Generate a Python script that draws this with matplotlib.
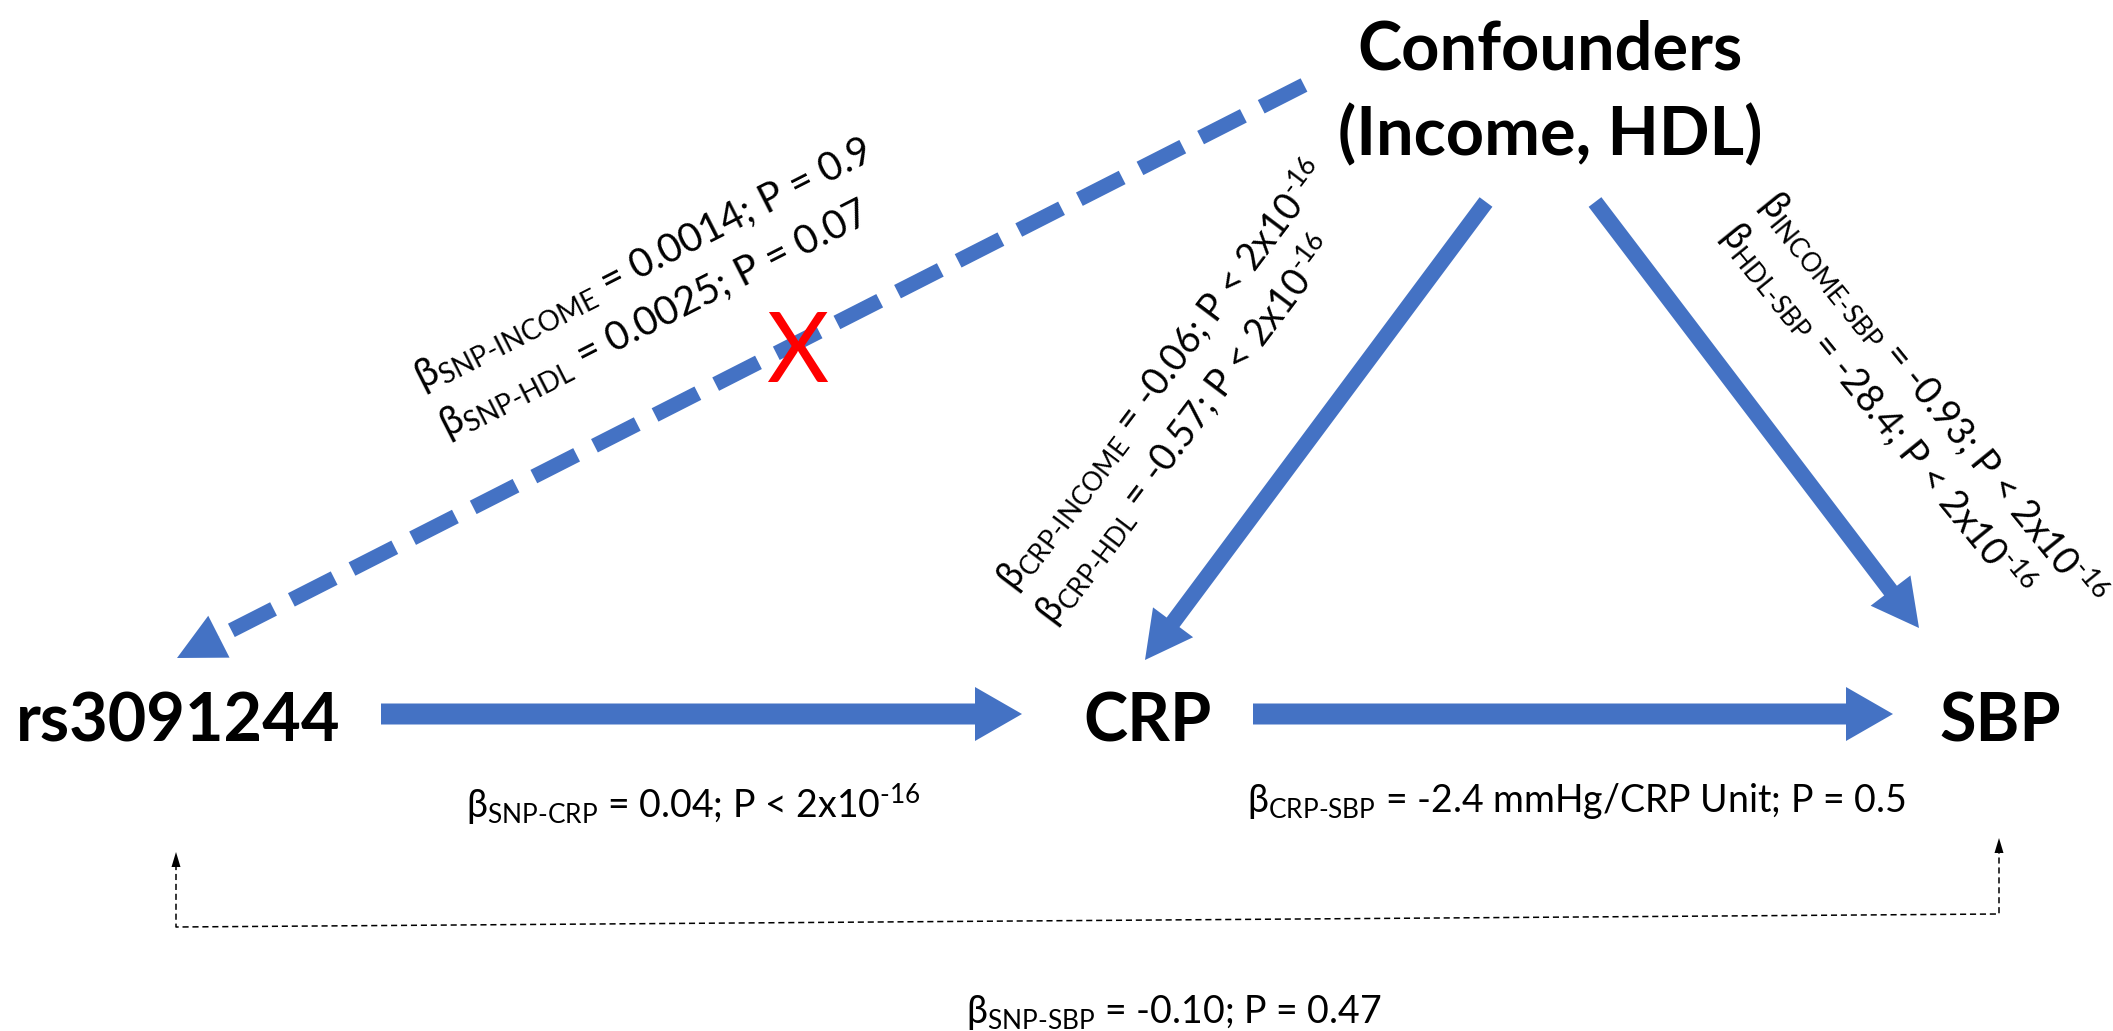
import matplotlib
matplotlib.use('Agg')
import matplotlib.pyplot as plt
from matplotlib.patches import FancyArrow

plt.rcParams['font.family'] = ['Lato', 'DejaVu Sans']
plt.rcParams['mathtext.fontset'] = 'custom'
plt.rcParams['mathtext.rm'] = 'Lato'
plt.rcParams['mathtext.it'] = 'Lato:italic'
plt.rcParams['mathtext.bf'] = 'Lato:bold'

# node names
nodes = ['rs3091244', 'CRP', 'SBP']
confounders = ['Confounders', '(Income, HDL)']

# SNP -> confounders (not significant)
snp_conf_sub = ['SNP-INCOME', 'SNP-HDL']
snp_conf_beta = ['0.0014', '0.0025']
snp_conf_p = ['P = 0.9', 'P = 0.07']

# confounders -> CRP
crp_conf_sub = ['CRP-INCOME', 'CRP-HDL']
crp_conf_beta = ['-0.06', '-0.57']

# confounders -> SBP
sbp_conf_sub = ['INCOME-SBP', 'HDL-SBP']
sbp_conf_beta = ['-0.93', '-28.4']

# main path
path_sub = ['SNP-CRP', 'CRP-SBP', 'SNP-SBP']
path_beta = ['0.04', '-2.4 mmHg/CRP Unit', '-0.10']
path_p = ['P16', 'P = 0.5', 'P = 0.47']


def ptext(p):
    if p == 'P16':
        return r'P < 2x10$^{\text{-16}}$'
    return p


def beta(sub, b, p):
    return r'β$_{\text{' + sub + r'}}$ = ' + b + '; ' + ptext(p)


W, H = 2113, 1031
BLUE = '#4472C4'

fig = plt.figure(figsize=(W / 100, H / 100), dpi=100)
ax = fig.add_axes([0, 0, 1, 1])
ax.set_xlim(0, W)
ax.set_ylim(H, 0)
ax.axis('off')


def arrow(x0, y0, x1, y1, w, hw, hl, color=BLUE):
    ax.add_patch(FancyArrow(x0, y0, x1 - x0, y1 - y0, width=w, head_width=hw,
                            head_length=hl, length_includes_head=True,
                            color=color, lw=0))


# solid arrows
arrow(381, 714, 1022, 714, 21, 54, 47)
arrow(1253, 714, 1893, 714, 21, 54, 47)
arrow(1486, 202, 1145, 660, 16, 50, 47)
arrow(1595, 202, 1919, 628, 16, 50, 47)

# dashed arrow confounders -> SNP
x0, y0, xt, yt = 1304, 85, 177, 658
L = ((x0 - xt) ** 2 + (y0 - yt) ** 2) ** 0.5
ux, uy = (xt - x0) / L, (yt - y0) / L
hl = 47
bx, by = xt - ux * hl, yt - uy * hl
ax.plot([x0, bx - ux * 14], [y0, by - uy * 14], color=BLUE, lw=15 * 0.72,
        dashes=(48 / 15, 20 / 15), solid_capstyle='butt', dash_capstyle='butt')
ax.add_patch(FancyArrow(bx - ux * 1, by - uy * 1, ux * (hl + 1), uy * (hl + 1),
                        width=0.1, head_width=47, head_length=hl,
                        length_includes_head=True, color=BLUE, lw=0))

# red X
ax.text(797, 382, 'X', color='#FF0000', fontsize=69, ha='center', va='baseline')

# thin dashed SNP -> SBP connector
ax.plot([176, 176, 1999, 1999], [864, 927, 914, 850], color='black', lw=1.1,
        dashes=(4, 2.5))
for xa, ya in [(176, 852), (1999, 838)]:
    ax.add_patch(FancyArrow(xa, ya + 15, 0, -15, width=0.1, head_width=9,
                            head_length=15, length_includes_head=True,
                            color='black', lw=0))

# node labels
ax.text(16, 741, nodes[0], fontsize=48, fontweight='bold', ha='left', va='baseline')
ax.text(1147, 741, nodes[1], fontsize=48, fontweight='bold', ha='center', va='baseline')
ax.text(2000, 741, nodes[2], fontsize=48, fontweight='bold', ha='center', va='baseline')
ax.text(1550, 70, confounders[0], fontsize=48, fontweight='bold', ha='center', va='baseline')
ax.text(1550, 155, confounders[1], fontsize=48, fontweight='bold', ha='center', va='baseline')

FS = 27
# main path labels
ax.text(466, 818, beta(path_sub[0], path_beta[0], path_p[0]), fontsize=FS,
        ha='left', va='baseline')
ax.text(1247, 812, beta(path_sub[1], path_beta[1], path_p[1]), fontsize=FS,
        ha='left', va='baseline')
ax.text(966, 1023, beta(path_sub[2], path_beta[2], path_p[2]), fontsize=FS,
        ha='left', va='baseline')

# rotated labels
snp_anchor = [(422, 390), (447, 438)]
for i in range(2):
    ax.text(*snp_anchor[i], beta(snp_conf_sub[i], snp_conf_beta[i], snp_conf_p[i]),
            fontsize=28.5, rotation=27, rotation_mode='anchor', ha='left', va='baseline')

crp_anchor = [(1014, 592), (1053, 626)]
for i in range(2):
    ax.text(*crp_anchor[i], beta(crp_conf_sub[i], crp_conf_beta[i], 'P16'),
            fontsize=FS, rotation=53, rotation_mode='anchor', ha='left', va='baseline')

sbp_anchor = [(1758, 204), (1719, 235)]
for i in range(2):
    ax.text(*sbp_anchor[i], beta(sbp_conf_sub[i], sbp_conf_beta[i], 'P16'),
            fontsize=FS, rotation=-51, rotation_mode='anchor', ha='left', va='baseline')

fig.savefig('out.png', dpi=100)
